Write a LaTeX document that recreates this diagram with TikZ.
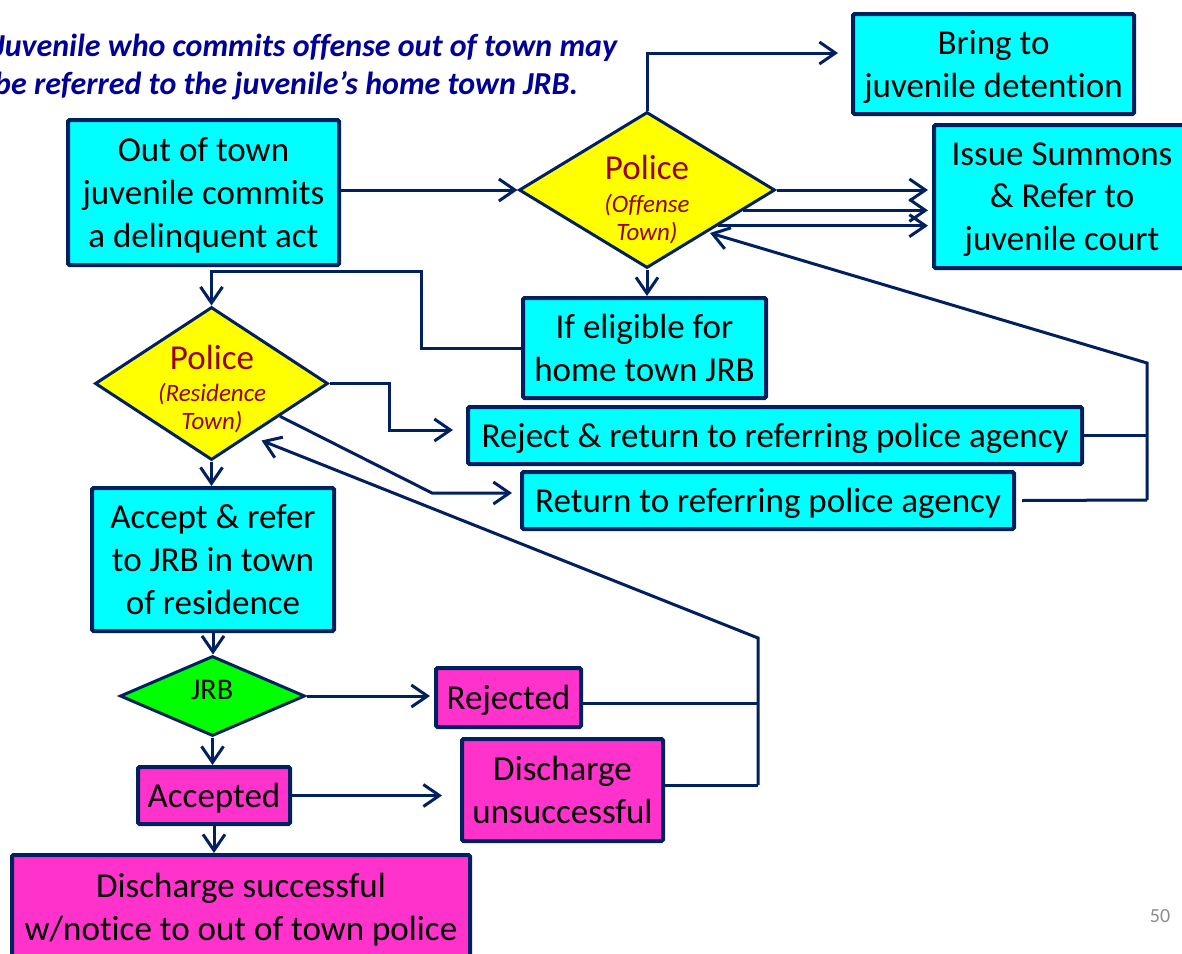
\documentclass[tikz,border=0pt]{standalone}
\usepackage{fontspec}
\setmainfont{Carlito}[Ligatures=NoCommon]
\usetikzlibrary{shapes.geometric,arrows.meta,calc}
\definecolor{navy}{HTML}{002060}
\definecolor{cyanfill}{HTML}{00FFFF}
\definecolor{magfill}{HTML}{FF33CC}
\definecolor{yelfill}{HTML}{FFFF00}
\definecolor{grnfill}{HTML}{00FF00}
\definecolor{policered}{HTML}{990000}
\definecolor{noteblue}{HTML}{000099}
\definecolor{pagegray}{HTML}{8C8C8C}

\begin{document}
\begin{tikzpicture}[x=1pt,y=-1pt,
  box/.style={draw=navy,line width=4pt,rounded corners=1.5pt,align=center,
    inner sep=0pt,text depth=0pt,font=\fontsize{35}{42.7}\selectfont},
  cbox/.style={box,fill=cyanfill},
  mbox/.style={box,fill=magfill},
  dec/.style={diamond,draw=navy,line width=3pt,inner sep=0pt},
  conn/.style={draw=navy,line width=3pt},
  arr/.style={conn,-{Straight Barb[length=16pt,width=22pt]}},
  ptitle/.style={text=policered,inner sep=0pt,font=\fontsize{35}{42}\selectfont},
  psub/.style={text=policered,inner sep=0pt,align=center,
    font=\fontsize{25}{28}\selectfont\itshape},
  note/.style={anchor=base west,inner sep=0pt,text=noteblue,
    font=\fontsize{32}{38}\selectfont\bfseries\itshape},
]
\useasboundingbox (0,0) rectangle (1182,953);
\clip (0,0) rectangle (1182,953);

% heading note
\node[note] (note1) at (-6,56) {Juvenile who commits offense out of town may};
\node[note] (note2) at (-6,94) {be referred to the juvenile’s home town JRB.};

% process boxes
\node[cbox,minimum width=271pt,minimum height=145pt] (out) at (203.5,192.5)
  {Out of town\\juvenile commits\\a delinquent act};
\node[cbox,minimum width=281pt,minimum height=100pt] (bring) at (993.5,64)
  {Bring to\\juvenile detention};
\node[cbox,minimum width=256pt,minimum height=143pt] (issue) at (1062,196.5)
  {Issue Summons\\\& Refer to\\juvenile court};
\node[cbox,minimum width=243pt,minimum height=100pt] (elig) at (644.5,348)
  {If eligible for\\home town JRB};
\node[cbox,minimum width=614pt,minimum height=57pt] (rej) at (775,435.5)
  {Reject \& return to referring police agency};
\node[cbox,minimum width=492pt,minimum height=57pt] (ret) at (768,500.5)
  {Return to referring police agency};
\node[cbox,minimum width=242pt,minimum height=143pt] (acc) at (213,559.5)
  {Accept \& refer\\to JRB in town\\of residence};
\node[mbox,minimum width=145pt,minimum height=59pt] (rjd) at (508.5,697.5)
  {Rejected};
\node[mbox,minimum width=152pt,minimum height=57pt] (accd) at (214,795.5)
  {Accepted};
\node[mbox,minimum width=201pt,minimum height=102pt] (dun) at (562.5,790)
  {Discharge\\unsuccessful};
\node[mbox,minimum width=458pt,minimum height=104pt] (dsuc) at (241,907)
  {Discharge successful\\w/notice to out of town police};

% decisions
\node[dec,fill=yelfill,minimum width=256pt,minimum height=156pt] (offA) at (647,190) {};
\node[ptitle] (offAt) at (647,167) {Police};
\node[psub] (offAs) at (647,219) {(Offense\\Town)};

\node[dec,fill=yelfill,minimum width=233pt,minimum height=153pt] (resB) at (211.5,383.5) {};
\node[ptitle] (resBt) at (212,357) {Police};
\node[psub] (resBs) at (212,408) {(Residence\\Town)};

\node[dec,fill=grnfill,minimum width=185pt,minimum height=80pt] (jrb) at (212.5,696) {};
\node[inner sep=0pt,font=\fontsize{30}{36}\selectfont] (jrbt) at (212,690) {JRB};

% page number
\node[text=pagegray,inner sep=0pt,font=\fontsize{20}{24}\selectfont] (pnum) at (1160,916) {50};

% helper points
\coordinate (s1) at ($(offA.east)!0.256!(offA.south)$);
\coordinate (s2) at ($(offA.east)!0.449!(offA.south)$);
\coordinate (iw) at ([xshift=-4pt]issue.west);
\coordinate (bw) at ([xshift=-13pt,yshift=11pt]bring.west);
\coordinate (busTop) at (1147,363);
\coordinate (busBot) at (1147,500);
\coordinate (rete) at ([xshift=6pt]ret.east);
\coordinate (j1) at (421,271);
\coordinate (j2) at (389,430);
\coordinate (j3) at (432,493);
\coordinate (rw) at ([xshift=-13pt]rej.west);
\coordinate (retw) at ([xshift=-8pt]ret.west);
\coordinate (rb) at ($(resB.east)!0.42!(resB.south)$);
\coordinate (bus2Top) at (758,638);
\coordinate (bus2Bot) at (758,785);
\coordinate (rje) at ([yshift=-5.5pt]rjd.east);
\coordinate (due) at ([yshift=5pt]dun.east);
\coordinate (rjw) at ([xshift=-4pt]rjd.west);
\coordinate (dunw) at ([xshift=-18pt]dun.west);

% connectors around the offense-town police
\draw[arr] (out.east |- offA.west) -- (offA.west);
\draw[arr] (offA.north) |- (bw);
\draw[arr] (offA.east) -- (iw |- offA.east);
\draw[arr] (s1) -- (iw |- s1);
\draw[arr] (s2) -- (iw |- s2);
\draw[arr] (offA.south) -- (offA.south |- elig.north);
\draw[conn] (rej.east) -- (rej.east -| busTop);
\draw[conn] (rete) -- (busBot);
\draw[arr] (busBot) -- (busTop) -- ([xshift=63pt,yshift=-43pt]offA.center);

% connectors around the residence-town police
\draw[arr] (elig.west) -| (j1) -| (resB.north);
\draw[arr] (resB.east) -| (j2) -- (rw |- j2);
\draw[arr] (rb) -- (j3) -- (retw |- j3);
\draw[arr] (resB.south) -- (resB.south |- acc.north);

% connectors around the JRB
\draw[arr] (acc.south) -- (acc.south |- jrb.north);
\draw[arr] (jrb.east) -- (rjw |- jrb.east);
\draw[arr] (jrb.south) -- (jrb.south |- accd.north);
\draw[arr] (accd.east) -- (dunw |- accd.east);
\draw[arr] (accd.south) -- (accd.south |- dsuc.north);
\draw[conn] (rje) -- (rje -| bus2Top);
\draw[conn] (due) -- (bus2Bot);
\draw[arr] (bus2Bot) -- (bus2Top) -- ([xshift=50pt,yshift=-57pt]resB.center);
\end{tikzpicture}
\end{document}
